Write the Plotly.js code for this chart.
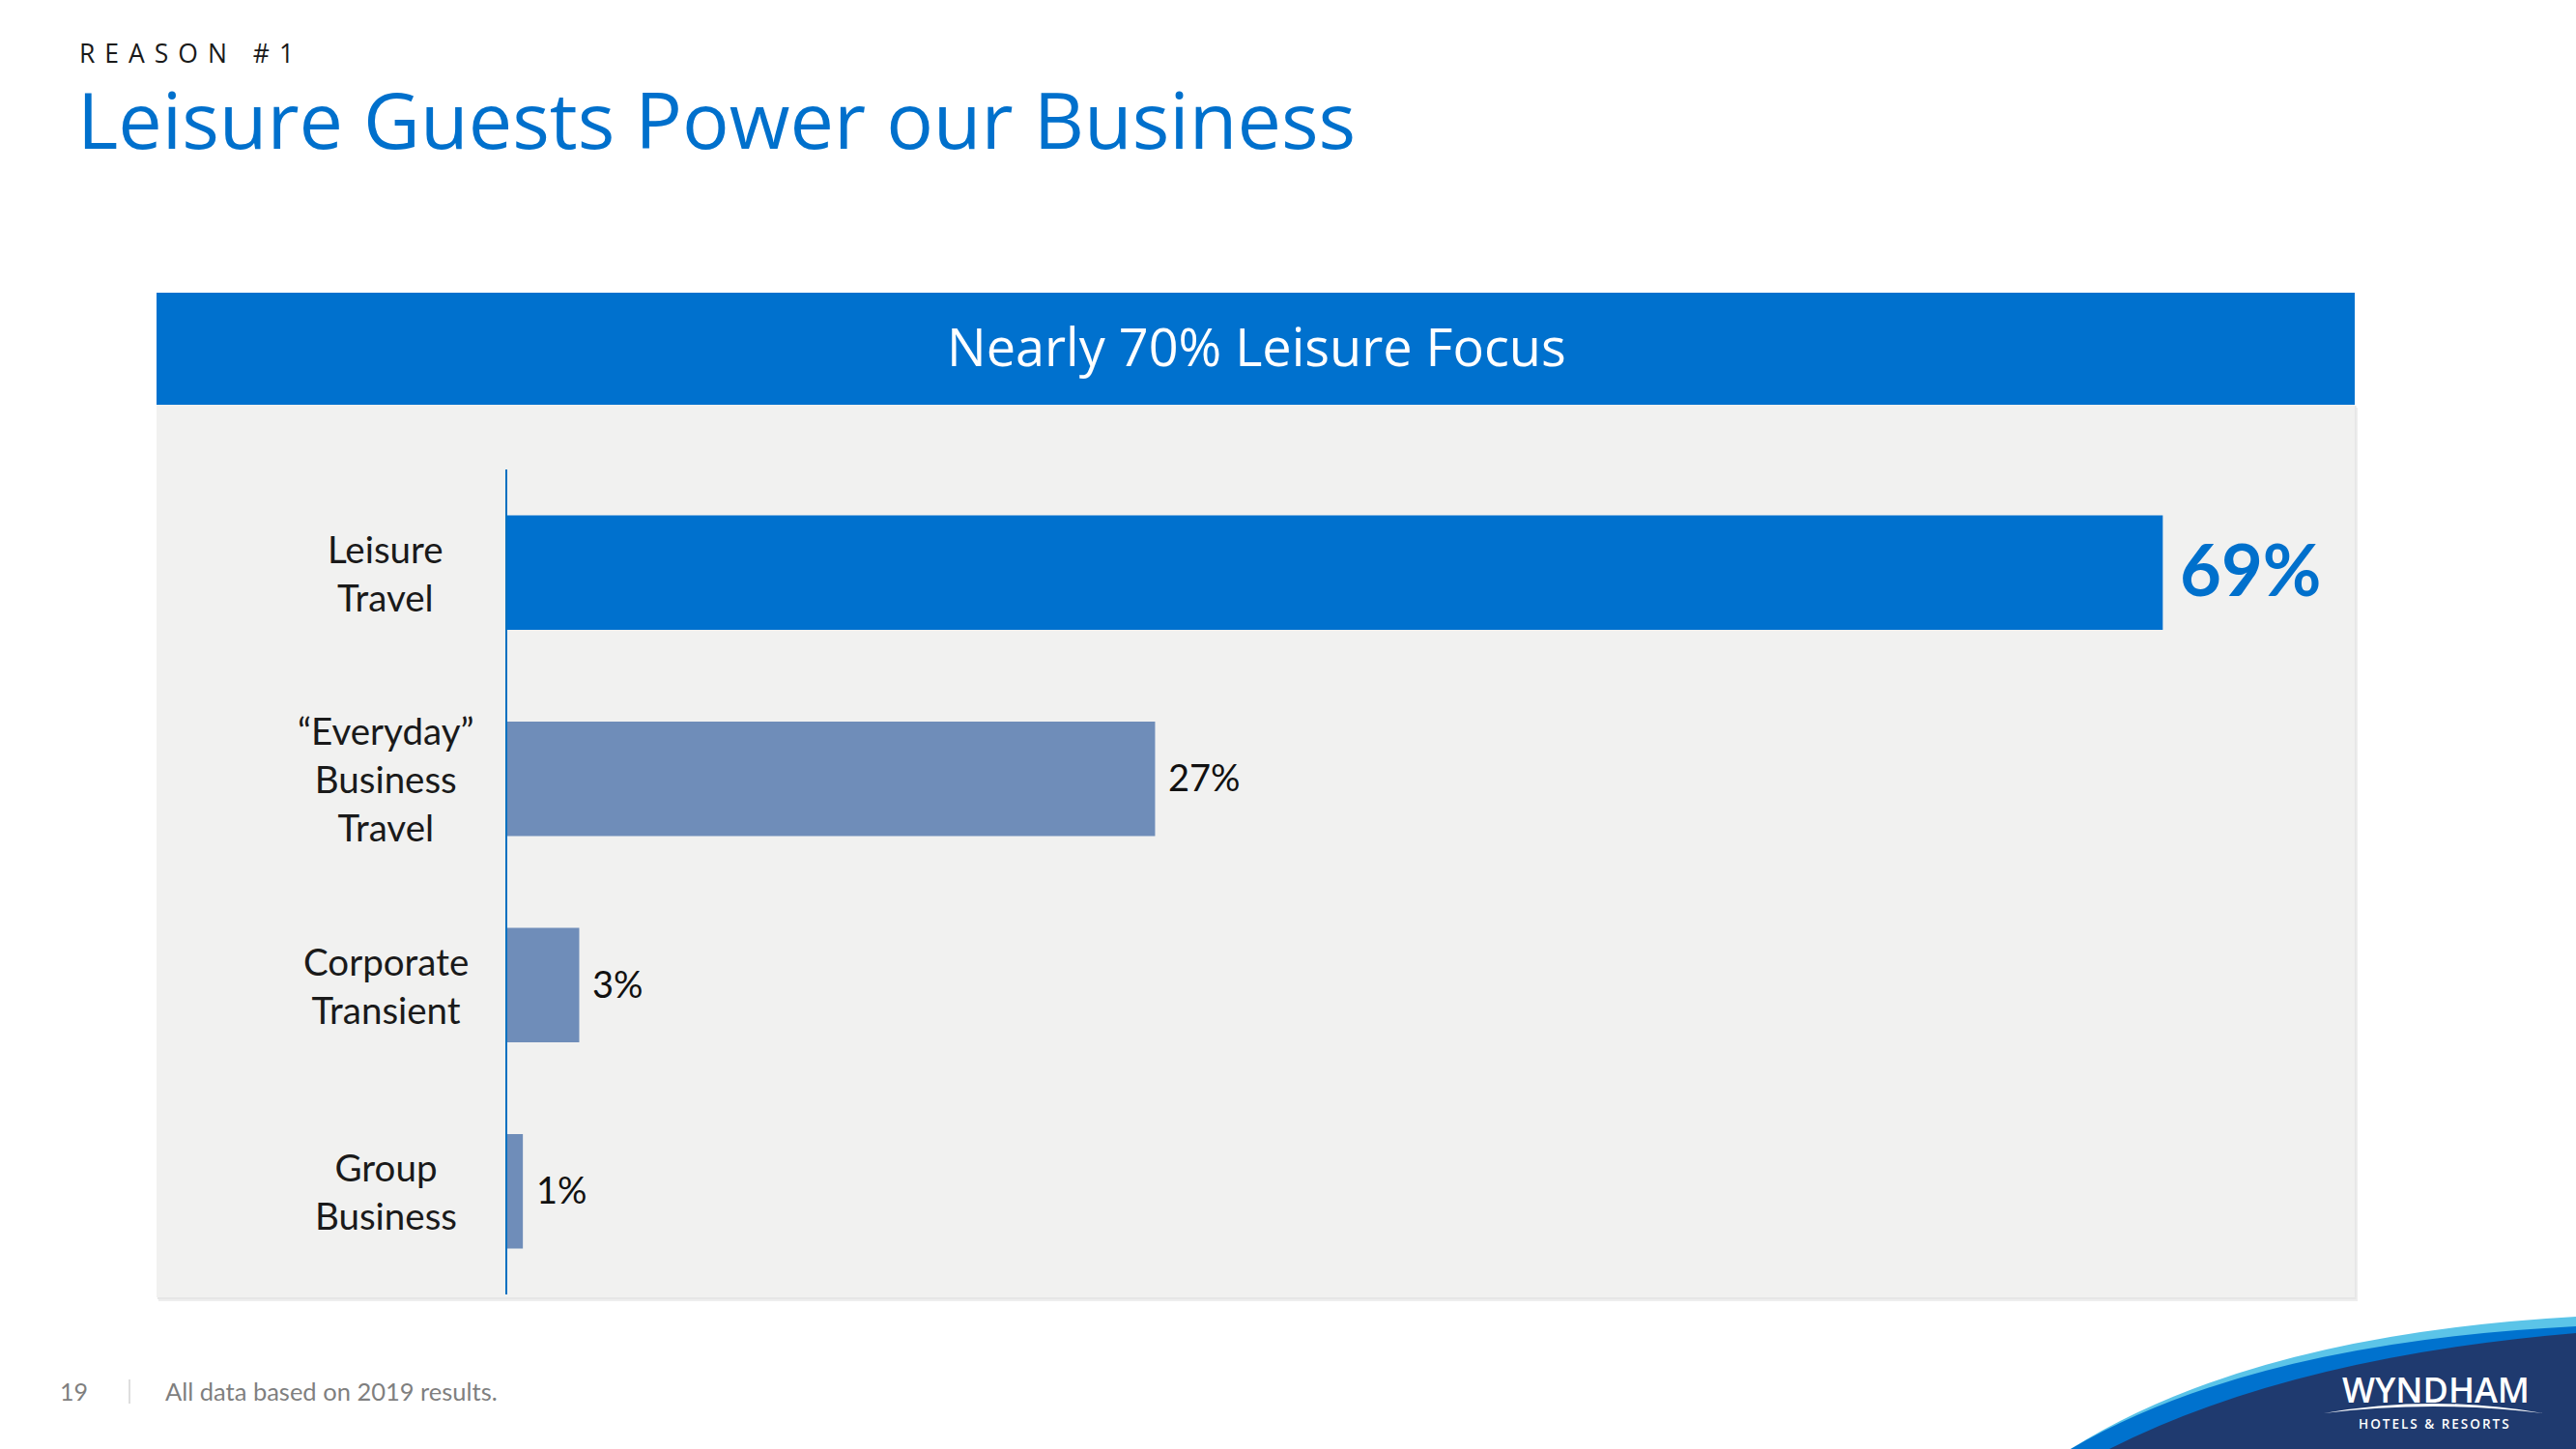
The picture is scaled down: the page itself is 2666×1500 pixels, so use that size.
<!DOCTYPE html>
<html>
<head>
<meta charset="utf-8">
<script src="https://cdn.plot.ly/plotly-3.0.1.min.js"></script>
<style>
  html, body { margin: 0; padding: 0; background: #ffffff; }
  #chart { width: 2666px; height: 1500px; }
</style>
</head>
<body>
<div id="chart"></div>
<script>
// ---- Data ----
const categories = ['Leisure<br>Travel', '“Everyday”<br>Business<br>Travel', 'Corporate<br>Transient', 'Group<br>Business'];
const shares = [69, 27, 3, 0.65];
const shareLabels = ['69%', '27%', '3%', '1%'];
const barColors = ['#0071CE', '#6F8DB9', '#6F8DB9', '#6F8DB9'];

const pageTitle = 'Leisure Guests Power our Business';
const kicker = 'REASON #1';
const panelTitle = 'Nearly 70% Leisure Focus';
const pageNumber = '19';
const footnote = 'All data based on 2019 results.';

// ---- pixel helpers (margins are zero, so paper == page) ----
const W = 2666, H = 1500;
const px = x => x / W;
const py = y => 1 - y / H;
const P = (x, y) => (x / W).toFixed(5) + ',' + (1 - y / H).toFixed(5);

const labelFont = 'Lato, "Open Sans", sans-serif';
const headFont = '"Open Sans", "Noto Sans", sans-serif';

const trace = {
  type: 'bar',
  orientation: 'h',
  x: shares,
  y: categories,
  width: 0.556,
  marker: { color: barColors, line: { width: 0 } },
  hoverinfo: 'none'
};

const annotations = [];
// page titles
annotations.push({
  xref: 'paper', yref: 'paper', x: px(80), y: py(55), xanchor: 'left', yanchor: 'middle',
  text: '<span style="letter-spacing:10px">' + kicker + '</span>', showarrow: false,
  font: { family: headFont, size: 26.5, color: '#1a1a1a', weight: 400 }
});
annotations.push({
  xref: 'paper', yref: 'paper', x: px(78), y: py(123), xanchor: 'left', yanchor: 'middle',
  text: pageTitle, showarrow: false,
  font: { family: headFont, size: 81, color: '#0070CC' }
});
annotations.push({
  xref: 'paper', yref: 'paper', x: px(1300), y: py(358), xanchor: 'center', yanchor: 'middle',
  text: panelTitle, showarrow: false,
  font: { family: headFont, size: 54, color: '#ffffff', weight: 400 }
});
// category labels + value labels
categories.forEach((c, i) => {
  annotations.push({
    xref: 'paper', yref: 'y', x: px(399), y: c, xanchor: 'center', yanchor: 'middle',
    text: c, align: 'center', showarrow: false,
    font: { family: labelFont, size: 38.5, color: '#1a1a1a' }
  });
  const big = i === 0;
  annotations.push({
    xref: 'x', yref: 'y', x: shares[i], y: c, xanchor: 'left', yanchor: 'middle',
    xshift: big ? 16 : 12, yshift: big ? 4 : 2,
    text: big ? '<b>' + shareLabels[i] + '</b>' : shareLabels[i], showarrow: false,
    font: { family: labelFont, size: big ? 74 : 38, color: big ? '#0070CC' : '#111111' }
  });
});
// footer
annotations.push({
  xref: 'paper', yref: 'paper', x: px(60), y: py(1440), xanchor: 'left', yanchor: 'middle',
  text: pageNumber, showarrow: false, font: { family: labelFont, size: 25, color: '#7f7f7f' }
});
annotations.push({
  xref: 'paper', yref: 'paper', x: px(169), y: py(1440), xanchor: 'left', yanchor: 'middle',
  text: footnote, showarrow: false, font: { family: labelFont, size: 25.5, color: '#7f7f7f' }
});
// logo text
annotations.push({
  xref: 'paper', yref: 'paper', x: px(2521), y: py(1438), xanchor: 'center', yanchor: 'middle',
  text: 'WYNDHAM', showarrow: false, font: { family: headFont, size: 36, color: '#ffffff', weight: 600 }
});
annotations.push({
  xref: 'paper', yref: 'paper', x: px(2520), y: py(1474), xanchor: 'center', yanchor: 'middle',
  text: '<span style="letter-spacing:2px">HOTELS &amp; RESORTS</span>', showarrow: false,
  font: { family: headFont, size: 13.5, color: '#ffffff', weight: 600 }
});

const shapes = [
  // panel shadow (soft)
  { type: 'rect', xref: 'paper', yref: 'paper', x0: px(164), x1: px(2440), y0: py(1347), y1: py(422),
    fillcolor: '#eeeeee', line: { width: 0 }, layer: 'below' },
  { type: 'rect', xref: 'paper', yref: 'paper', x0: px(163), x1: px(2438.5), y0: py(1345), y1: py(420),
    fillcolor: '#e6e6e6', line: { width: 0 }, layer: 'below' },
  // panel
  { type: 'rect', xref: 'paper', yref: 'paper', x0: px(162), x1: px(2437), y0: py(1343), y1: py(418),
    fillcolor: '#F1F1F0', line: { width: 0 }, layer: 'below' },
  // header band
  { type: 'rect', xref: 'paper', yref: 'paper', x0: px(162), x1: px(2437), y0: py(419), y1: py(303),
    fillcolor: '#0071CE', line: { width: 0 }, layer: 'below' },
  // footer separator
  { type: 'line', xref: 'paper', yref: 'paper', x0: px(134), x1: px(134), y0: py(1428), y1: py(1453),
    line: { color: '#c8c8c8', width: 1.2 } },
  // logo swoosh: light blue, blue, navy
  { type: 'path', xref: 'paper', yref: 'paper', fillcolor: '#5BC4E8', line: { width: 0 },
    path: 'M ' + P(2143, 1500) + ' Q ' + P(2330, 1382) + ' ' + P(2666, 1363) + ' L ' + P(2666, 1500) + ' Z' },
  { type: 'path', xref: 'paper', yref: 'paper', fillcolor: '#0072CE', line: { width: 0 },
    path: 'M ' + P(2143, 1500) + ' Q ' + P(2330, 1390) + ' ' + P(2666, 1373) + ' L ' + P(2666, 1500) + ' Z' },
  { type: 'path', xref: 'paper', yref: 'paper', fillcolor: '#1F3A6F', line: { width: 0 },
    path: 'M ' + P(2183, 1500) + ' Q ' + P(2370, 1405) + ' ' + P(2666, 1380) + ' L ' + P(2666, 1500) + ' Z' },
  // logo arc
  { type: 'path', xref: 'paper', yref: 'paper', fillcolor: '#ffffff', line: { width: 0 },
    path: 'M ' + P(2405, 1463) + ' Q ' + P(2518, 1443) + ' ' + P(2632, 1463) + ' Q ' + P(2518, 1449) + ' ' + P(2405, 1463) + ' Z' }
];

const layout = {
  width: W, height: H,
  margin: { l: 0, r: 0, t: 0, b: 0, pad: 0 },
  paper_bgcolor: '#ffffff',
  plot_bgcolor: 'rgba(0,0,0,0)',
  showlegend: false,
  xaxis: {
    domain: [px(525), px(2437)], range: [0, 77],
    showgrid: false, zeroline: false, showticklabels: false, ticks: '', showline: false, fixedrange: true
  },
  yaxis: {
    type: 'category', domain: [py(1340), py(486)], range: [3.5, -0.5],
    showgrid: false, zeroline: false, showticklabels: false, ticks: '',
    showline: true, linecolor: '#0070C0', linewidth: 2, fixedrange: true
  },
  annotations: annotations,
  shapes: shapes
};

Plotly.newPlot('chart', [trace], layout, { staticPlot: true, displayModeBar: false });
</script>
</body>
</html>
